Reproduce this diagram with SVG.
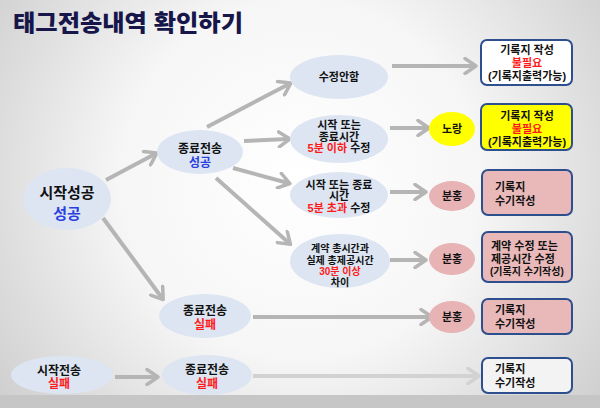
<svg xmlns="http://www.w3.org/2000/svg" width="600" height="408" viewBox="0 0 600 408">
<defs>
<radialGradient id="bg" cx="300" cy="180" r="400" gradientUnits="userSpaceOnUse">
<stop offset="0" stop-color="#ffffff"/>
<stop offset="0.45" stop-color="#f6f6f6"/>
<stop offset="1" stop-color="#c9c9c9"/>
</radialGradient>
<marker id="ah" markerUnits="userSpaceOnUse" markerWidth="16" markerHeight="18" viewBox="0 0 16 18" refX="11" refY="9" orient="auto">
<path d="M2,1.5 L13,9 L2,16.5" fill="none" stroke="#b5b5b5" stroke-width="3.5" stroke-linecap="round" stroke-linejoin="round"/>
</marker>
<marker id="ahl" markerUnits="userSpaceOnUse" markerWidth="16" markerHeight="18" viewBox="0 0 16 18" refX="11" refY="9" orient="auto">
<path d="M2,1.5 L13,9 L2,16.5" fill="none" stroke="#d2d2d2" stroke-width="3.5" stroke-linecap="round" stroke-linejoin="round"/>
</marker>
</defs>
<style>
text{font-family:"Liberation Sans","Noto Sans CJK KR",sans-serif;font-weight:bold;fill:#111;text-anchor:middle}
.s11{font-size:11px}
.s10{font-size:10px}
.s12{font-size:12px}
.s15{font-size:15px}
.r{fill:#ff1a1a}
.b{fill:#2a3fe0}
.l{text-anchor:start}
.el{fill:#dce5f1}
.pk{fill:#e8b3b4}
.box{stroke:#2d4f8e;stroke-width:2}
.ar{stroke:#b5b5b5;stroke-width:4;fill:none;marker-end:url(#ah)}
.arl{stroke:#d2d2d2;stroke-width:4;fill:none;marker-end:url(#ahl)}
</style>
<rect x="0" y="0" width="600" height="408" fill="url(#bg)"/>
<rect x="0" y="395" width="600" height="13" fill="#c6c6c6"/>
<text x="13" y="31" style="font-size:23px;fill:#16164a;text-anchor:start;font-weight:900" textLength="230" lengthAdjust="spacingAndGlyphs">태그전송내역 확인하기</text>

<g id="connectors">
<line class="ar" x1="106" y1="180" x2="155" y2="154"/>
<line class="ar" x1="103" y1="218" x2="162" y2="298"/>
<line class="ar" x1="207" y1="127" x2="289" y2="84"/>
<line class="ar" x1="244" y1="141" x2="288" y2="139"/>
<line class="ar" x1="233" y1="168" x2="288" y2="183"/>
<line class="ar" x1="216" y1="178" x2="289" y2="243"/>
<line class="ar" x1="392" y1="66" x2="474" y2="66"/>
<line class="ar" x1="390" y1="128" x2="427" y2="128"/>
<line class="ar" x1="390" y1="192" x2="424" y2="192"/>
<line class="ar" x1="390" y1="260" x2="424" y2="260"/>
<line class="ar" x1="253" y1="317" x2="430" y2="317"/>
<line class="ar" x1="115" y1="377" x2="156" y2="377"/>
<line class="arl" x1="253" y1="376" x2="477" y2="376"/>
</g>

<g id="start-ok">
<ellipse class="el" cx="67" cy="199" rx="44" ry="31"/>
<text class="s15" x="67" y="198">시작성공</text>
<text class="s15 b" x="67" y="219">성공</text>
</g>
<g id="end-ok">
<ellipse class="el" cx="200" cy="152" rx="43" ry="22"/>
<text class="s12" x="200" y="153">종료전송</text>
<text class="s12 b" x="200" y="167">성공</text>
</g>
<g id="no-edit">
<ellipse class="el" cx="339" cy="77" rx="49" ry="22"/>
<text class="s11" x="339" y="81">수정안함</text>
</g>
<g id="edit-under5">
<ellipse class="el" cx="339" cy="139" rx="49" ry="24"/>
<text class="s11" x="339" y="129">시작 또는</text>
<text class="s11" x="339" y="141">종료시간</text>
<text class="s11" x="339" y="152"><tspan class="r">5분 이하</tspan> 수정</text>
</g>
<g id="edit-over5">
<ellipse class="el" cx="339" cy="195" rx="49" ry="23"/>
<text class="s11" x="339" y="189">시작 또는 종료</text>
<text class="s11" x="339" y="200">시간</text>
<text class="s11" x="339" y="212"><tspan class="r">5분 초과</tspan> 수정</text>
</g>
<g id="diff30">
<ellipse class="el" cx="340" cy="261" rx="50" ry="27"/>
<text class="s10" x="340" y="252">계약 총시간과</text>
<text class="s10" x="340" y="264">실제 총제공시간</text>
<text class="s10 r" x="340" y="275">30분 이상</text>
<text class="s10" x="340" y="286">차이</text>
</g>
<g id="end-fail">
<ellipse class="el" cx="205" cy="316" rx="46" ry="22"/>
<text class="s12" x="205" y="315">종료전송</text>
<text class="s12 r" x="205" y="329">실패</text>
</g>
<g id="start-fail">
<ellipse class="el" cx="62" cy="375" rx="51" ry="19"/>
<text class="s12" x="59" y="375">시작전송</text>
<text class="s12 r" x="59" y="388">실패</text>
</g>
<g id="end-fail2">
<ellipse class="el" cx="207" cy="375" rx="45" ry="20"/>
<text class="s12" x="207" y="374">종료전송</text>
<text class="s12 r" x="207" y="388">실패</text>
</g>

<g id="yellow">
<ellipse cx="452" cy="129" rx="23" ry="17" fill="#ffff00"/>
<text class="s11" x="452" y="133">노랑</text>
</g>
<g id="pink1">
<ellipse class="pk" cx="452" cy="196" rx="23" ry="15"/>
<text class="s11" x="452" y="200">분홍</text>
</g>
<g id="pink2">
<ellipse class="pk" cx="452" cy="259" rx="23" ry="16"/>
<text class="s11" x="452" y="263">분홍</text>
</g>
<g id="pink3">
<ellipse class="pk" cx="452" cy="317" rx="23" ry="16"/>
<text class="s11" x="452" y="321">분홍</text>
</g>

<g id="box1">
<rect class="box" x="481" y="40" width="91" height="45" rx="6" fill="#ffffff"/>
<text class="s11" x="527" y="54">기록지 작성</text>
<text class="s11 r" x="527" y="67">불필요</text>
<text class="s11" x="527" y="80">(기록지출력가능)</text>
</g>
<g id="box2">
<rect class="box" x="481" y="104" width="91" height="46" rx="6" fill="#ffff00"/>
<text class="s11" x="527" y="120">기록지 작성</text>
<text class="s11 r" x="527" y="133">불필요</text>
<text class="s11" x="527" y="146">(기록지출력가능)</text>
</g>
<g id="box3">
<rect class="box" x="482" y="170" width="90" height="45" rx="6" fill="#e9b9ba"/>
<text class="s11 l" x="495" y="191">기록지</text>
<text class="s11 l" x="495" y="205">수기작성</text>
</g>
<g id="box4">
<rect class="box" x="482" y="232" width="90" height="50" rx="6" fill="#e9b9ba"/>
<text class="s11 l" x="491" y="250">계약 수정 또는</text>
<text class="s11 l" x="491" y="263">제공시간 수정</text>
<text class="s10 l" x="490" y="275">(기록지 수기작성)</text>
</g>
<g id="box5">
<rect class="box" x="482" y="299" width="90" height="35" rx="6" fill="#e9b9ba"/>
<text class="s11 l" x="495" y="314">기록지</text>
<text class="s11 l" x="495" y="328">수기작성</text>
</g>
<g id="box6">
<rect class="box" x="482" y="358" width="90" height="35" rx="6" fill="#f3f3f3"/>
<text class="s11 l" x="495" y="373">기록지</text>
<text class="s11 l" x="495" y="387">수기작성</text>
</g>
</svg>
